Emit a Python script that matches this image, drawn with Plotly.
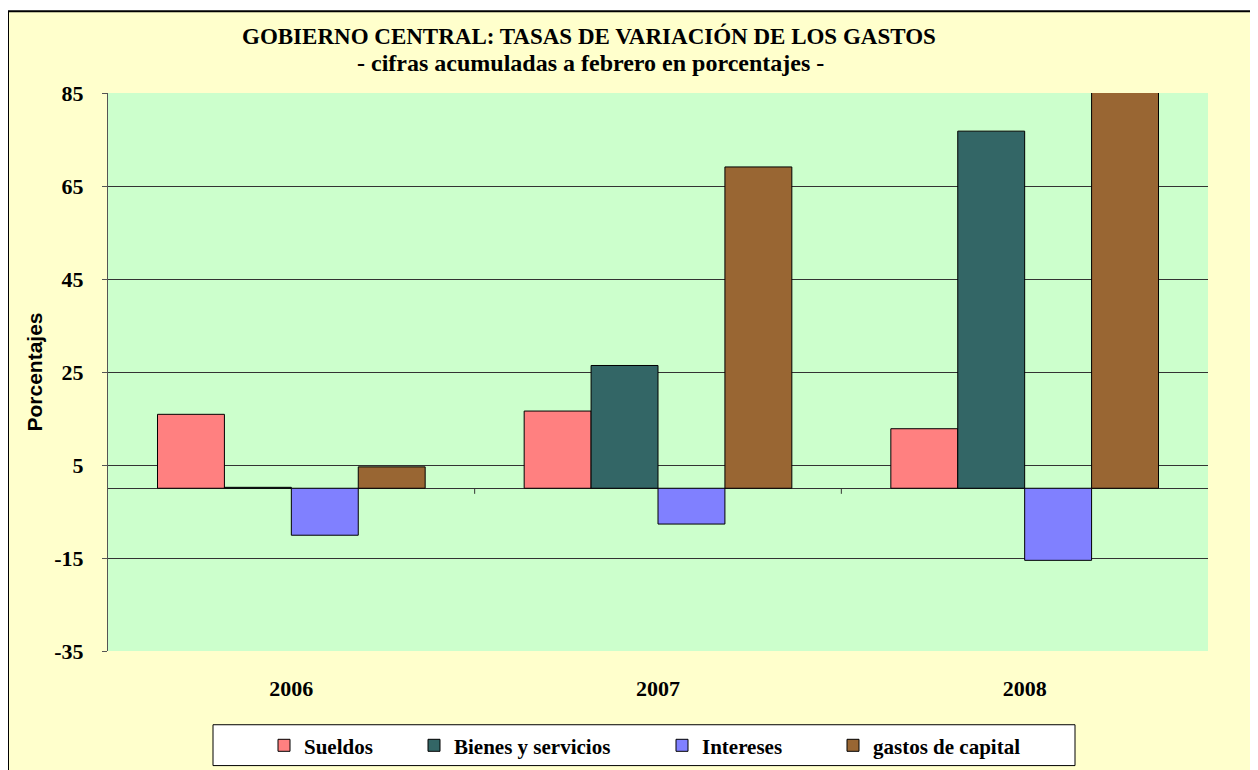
import plotly.graph_objects as go

years = ["2006", "2007", "2008"]
sueldos = [15.9, 16.6, 12.8]
bienes = [0.2, 26.4, 76.8]
intereses = [-10.1, -7.7, -15.5]
capital = [4.6, 69.1, 88.0]

series_names = ["Sueldos", "Bienes y servicios", "Intereses", "gastos de capital"]
series_colors = ["#FF8080", "#336666", "#8080FF", "#996633"]
y_ticks = [-35, -15, 5, 25, 45, 65, 85]

W, H = 1258, 770
OFF = 8  # page body margin
L, R, T, B = 108, 1208, 93, 653  # plot area in page pixels

def px(x):
    return (x - L) / (R - L)

def py(y):
    return (B - y) / (B - T)

serif = "Liberation Serif"
legend_ids = ["legend", "legend2", "legend3", "legend4"]
legend_text_x = [302, 452, 700, 871]

fig = go.Figure()
for name, vals, col, lid in zip(series_names, [sueldos, bienes, intereses, capital], series_colors, legend_ids):
    fig.add_trace(go.Bar(x=years, y=vals, name=name, legend=lid,
                         marker=dict(color=col, line=dict(color="black", width=1))))

shapes = [
    dict(type="rect", xref="paper", yref="paper", x0=px(8), x1=px(1275), y0=py(790), y1=py(11),
         fillcolor="#FFFFCC", line=dict(color="black", width=2), layer="below"),
    dict(type="rect", xref="paper", yref="paper", x0=0, x1=1, y0=0, y1=1,
         fillcolor="#CCFFCC", line=dict(width=0), layer="below"),
    dict(type="rect", xref="paper", yref="paper", x0=px(213), x1=px(1075), y0=py(768), y1=py(727),
         fillcolor="white", line=dict(color="black", width=1), layer="below"),
]
for b in [0.5, 1.5]:
    shapes.append(dict(type="line", xref="x", yref="y", x0=b, x1=b, y0=0, y1=-1.2,
                       line=dict(color="#333333", width=1)))

legend_font = dict(family=serif, size=21, color="black", weight="bold")
legends = {}
for lid, tx in zip(legend_ids, legend_text_x):
    legends[lid] = dict(x=px(tx - 38), y=py(748), xanchor="left", yanchor="middle",
                        bgcolor="rgba(0,0,0,0)", borderwidth=0, font=legend_font,
                        orientation="h")

fig.update_layout(
    width=W, height=H,
    margin=dict(l=L - OFF, r=W - (R - OFF), t=T - OFF, b=H - (B - OFF), pad=0),
    paper_bgcolor="white",
    plot_bgcolor="#CCFFCC",
    barmode="group", bargap=0.27, bargroupgap=0,
    shapes=shapes,
    showlegend=True,
    annotations=[
        dict(text="GOBIERNO CENTRAL: TASAS DE VARIACIÓN DE LOS GASTOS", xref="paper", yref="paper",
             x=px(589), y=py(36), xanchor="center", yanchor="middle", showarrow=False,
             font=dict(family=serif, size=23, color="black", weight="bold")),
        dict(text="- cifras acumuladas a febrero en porcentajes -", xref="paper", yref="paper",
             x=px(590), y=py(63), xanchor="center", yanchor="middle", showarrow=False,
             font=dict(family=serif, size=24, color="black", weight="bold")),
    ],
    xaxis=dict(showgrid=False, showline=False, ticks="", zeroline=False,
               tickfont=dict(family=serif, size=22, color="black", weight="bold"),
               ticklabelstandoff=22),
    yaxis=dict(range=[-35, 85], tickvals=y_ticks, ticktext=[str(v) for v in y_ticks],
               showgrid=True, gridcolor="#333333", gridwidth=1,
               zeroline=True, zerolinecolor="#333333", zerolinewidth=1,
               showline=True, linecolor="#555555", linewidth=1,
               ticks="outside", ticklen=5, tickcolor="#555555",
               tickfont=dict(family=serif, size=22, color="black", weight="bold"),
               ticklabelstandoff=14,
               title=dict(text="Porcentajes", standoff=5,
                          font=dict(family="Liberation Sans", size=21, color="black", weight="bold"))),
    **legends,
)
fig.write_html("out.html")
